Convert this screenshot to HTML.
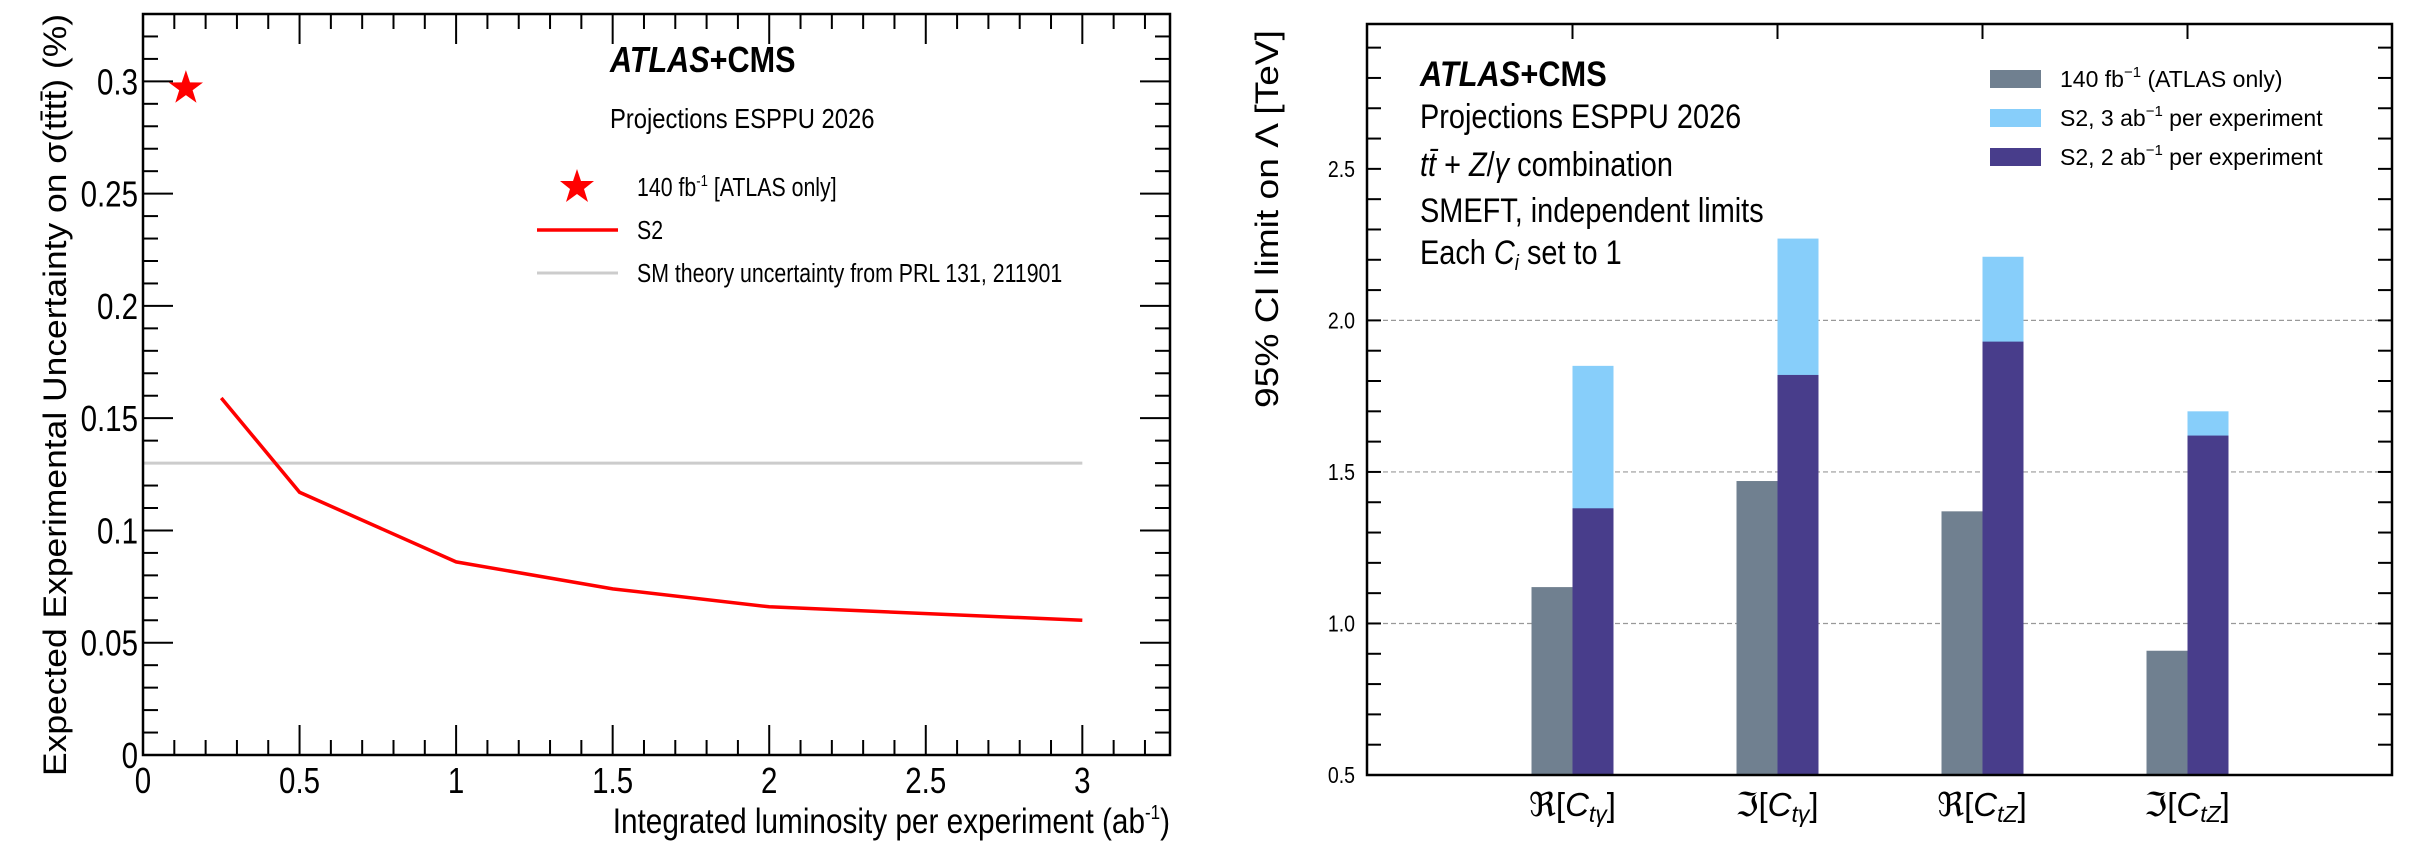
<!DOCTYPE html>
<html><head><meta charset="utf-8"><style>
html,body{margin:0;padding:0;background:#fff}
svg{display:block}
text{font-family:"Liberation Sans",sans-serif}
</style></head><body>
<svg id="root" width="2410" height="849" viewBox="0 0 2410 849" xmlns="http://www.w3.org/2000/svg">
<g id="left"></g>
<g id="right"></g>
</svg>
<script>
// Left chart data
const lumiX = [0.25, 0.5, 1, 1.5, 2, 3];
const lumiY = [0.159, 0.117, 0.086, 0.074, 0.066, 0.060];
const atlasStarX = [0.137];
const atlasStarY = [0.297];
const smTheory = [0.13];
const smTheoryRange = [0, 3];
const leftXTicks = [0, 0.5, 1, 1.5, 2, 2.5, 3];
const leftXTickLabels = ["0", "0.5", "1", "1.5", "2", "2.5", "3"];
const leftYTicks = [0, 0.05, 0.1, 0.15, 0.2, 0.25, 0.3];
const leftYTickLabels = ["0", "0.05", "0.1", "0.15", "0.2", "0.25", "0.3"];
// Right chart data
const categories = ["Re[Cty]", "Im[Cty]", "Re[CtZ]", "Im[CtZ]"];
const atlas140 = [1.12, 1.47, 1.37, 0.91];
const s2_3ab = [1.85, 2.27, 2.21, 1.70];
const s2_2ab = [1.38, 1.82, 1.93, 1.62];
const rightYTicks = [0.5, 1.0, 1.5, 2.0, 2.5];
const rightYTickLabels = ["0.5", "1.0", "1.5", "2.0", "2.5"];
const gridLines = [1.0, 1.5, 2.0];

const NS = "http://www.w3.org/2000/svg";
function mk(parent, tag, attrs, text) {
  const e = document.createElementNS(NS, tag);
  for (const k in attrs) e.setAttribute(k, attrs[k]);
  if (text !== undefined) e.textContent = text;
  parent.appendChild(e);
  return e;
}

// ---------- LEFT ----------
const L = document.getElementById('left');
const lx0 = 143, lx1 = 1170, ly0 = 755, ly1 = 14;
const lxMax = 3.28, lyMax = 0.33;
const lsx = v => lx0 + v / lxMax * (lx1 - lx0);
const lsy = v => ly0 - v / lyMax * (ly0 - ly1);

for (let i = 0; i <= 32; i++) {
  const v = i * 0.1; const x = lsx(v);
  const major = i % 5 === 0; const len = major ? 30 : 15;
  let t = mk(L, 'line', {x1: x, x2: x, y1: ly0, y2: ly0 - len, stroke: '#000', 'stroke-width': 2});
  
  
  t = mk(L, 'line', {x1: x, x2: x, y1: ly1, y2: ly1 + len, stroke: '#000', 'stroke-width': 2});
  
  
}
for (let i = 0; i <= 33; i++) {
  const v = i * 0.01; const y = lsy(v);
  const major = i % 5 === 0; const len = major ? 30 : 15;
  let t = mk(L, 'line', {x1: lx0, x2: lx0 + len, y1: y, y2: y, stroke: '#000', 'stroke-width': 2});
  
  
  t = mk(L, 'line', {x1: lx1, x2: lx1 - len, y1: y, y2: y, stroke: '#000', 'stroke-width': 2});
  
  
}
leftXTicks.forEach((v, i) => {
  const t = mk(L, 'text', {x: lsx(v), y: ly0 + 38, 'font-size': 36, 'text-anchor': 'middle', transform: `translate(${lsx(v)},0) scale(0.82,1) translate(${-lsx(v)},0)`}, leftXTickLabels[i]);
  
  
});
leftYTicks.forEach((v, i) => {
  const t = mk(L, 'text', {x: 138, y: lsy(v) + 13, 'font-size': 36, 'text-anchor': 'end', transform: `translate(138,0) scale(0.82,1) translate(-138,0)`}, leftYTickLabels[i]);
  
  
});
let sm = mk(L, 'line', {x1: lsx(smTheoryRange[0]), x2: lsx(smTheoryRange[1]), y1: lsy(smTheory[0]), y2: lsy(smTheory[0]), stroke: '#cccccc', 'stroke-width': 3});


let pts = lumiX.map((x, i) => lsx(x) + ',' + lsy(lumiY[i])).join(' ');
let s2 = mk(L, 'polyline', {points: pts, fill: 'none', stroke: '#ff0000', 'stroke-width': 3.5});


function star(parent, cx, cy, R, r) {
  let p = [];
  for (let k = 0; k < 10; k++) {
    const a = -Math.PI / 2 + k * Math.PI / 5; const rr = k % 2 ? r : R;
    p.push((cx + rr * Math.cos(a)).toFixed(1) + ',' + (cy + rr * Math.sin(a)).toFixed(1));
  }
  return mk(parent, 'polygon', {points: p.join(' '), fill: '#ff0000'});
}
atlasStarX.forEach((v, i) => {
  const s = star(L, lsx(v), lsy(atlasStarY[i]), 18, 7);
  
  
});
let fr = mk(L, 'rect', {x: lx0, y: ly1, width: lx1 - lx0, height: ly0 - ly1, fill: 'none', stroke: '#000', 'stroke-width': 2.5});


</script>
<script>
(function(){
const L = document.getElementById('left');
L.insertAdjacentHTML('beforeend', `
<text x="610" y="72" font-size="36" font-weight="bold" transform="translate(610,0) scale(0.85,1) translate(-610,0)"><tspan font-style="italic">ATLAS</tspan>+CMS</text>
<text x="610" y="128" font-size="28" transform="translate(610,0) scale(0.85,1) translate(-610,0)">Projections ESPPU 2026</text>
<polygon points="577,169 581,181 594,181 584,189 588,202 577,194 566,202 570,189 560,181 573,181" fill="#ff0000"/>
<text x="637" y="196" font-size="26" transform="translate(637,0) scale(0.82,1) translate(-637,0)">140 fb<tspan dy="-10" font-size="16">-1</tspan><tspan dy="10"> [ATLAS only]</tspan></text>
<line x1="537" x2="618" y1="230" y2="230" stroke="#ff0000" stroke-width="3.5"/>
<text x="637" y="239" font-size="26" transform="translate(637,0) scale(0.82,1) translate(-637,0)">S2</text>
<line x1="537" x2="618" y1="273" y2="273" stroke="#cccccc" stroke-width="3"/>
<text x="637" y="282" font-size="26" transform="translate(637,0) scale(0.82,1) translate(-637,0)">SM theory uncertainty from PRL 131, 211901</text>
<text x="1170" y="833" font-size="35" text-anchor="end" transform="translate(1170,0) scale(0.85,1) translate(-1170,0)">Integrated luminosity per experiment (ab<tspan dy="-14" font-size="20">-1</tspan><tspan dy="14">)</tspan></text>
<text transform="translate(66,776) rotate(-90)" x="0" y="0" font-size="32" textLength="762" lengthAdjust="spacingAndGlyphs">Expected Experimental Uncertainty on σ(tt̄tt̄)  (%)</text>
`);
})();
</script>
<script>
// ---------- RIGHT ----------
const R = document.getElementById('right');
const rx0 = 1367, rx1 = 2392, ry0 = 775, ry1 = 24;
const ryMin = 0.5, ryMax = 2.978;
const rsy = v => ry0 - (v - ryMin) / (ryMax - ryMin) * (ry0 - ry1);
const catX = i => 1572.5 + i * 205;
const bw = 41;

gridLines.forEach(v => {
  const g = mk(R, 'line', {x1: rx0, x2: rx1, y1: rsy(v), y2: rsy(v), stroke: '#999', 'stroke-width': 1.2, 'stroke-dasharray': '5,3'});
  
  
});
for (let i = 5; i <= 29; i++) {
  const v = i * 0.1; const y = rsy(v);
  let t = mk(R, 'line', {x1: rx0, x2: rx0 + 14, y1: y, y2: y, stroke: '#000', 'stroke-width': 2});
  
  
  t = mk(R, 'line', {x1: rx1, x2: rx1 - 14, y1: y, y2: y, stroke: '#000', 'stroke-width': 2});
  
  
}
rightYTicks.forEach((v, i) => {
  const t = mk(R, 'text', {x: 1355, y: rsy(v) + 8, 'font-size': 23, 'text-anchor': 'end', transform: 'translate(1355,0) scale(0.85,1) translate(-1355,0)'}, rightYTickLabels[i]);
  
  
});
categories.forEach((c, i) => {
  const cx = catX(i);
  let t = mk(R, 'line', {x1: cx, x2: cx, y1: ry1, y2: ry1 + 15, stroke: '#000', 'stroke-width': 2});
  
  
  let b = mk(R, 'rect', {x: cx - bw, y: rsy(atlas140[i]), width: bw, height: ry0 - rsy(atlas140[i]), fill: '#708090'});
  
  
  b = mk(R, 'rect', {x: cx, y: rsy(s2_3ab[i]), width: bw, height: ry0 - rsy(s2_3ab[i]), fill: '#87cefa'});
  
  
  b = mk(R, 'rect', {x: cx, y: rsy(s2_2ab[i]), width: bw, height: ry0 - rsy(s2_2ab[i]), fill: '#483d8b'});
  
  
});
let rf = mk(R, 'rect', {x: rx0, y: ry1, width: rx1 - rx0, height: ry0 - ry1, fill: 'none', stroke: '#000', 'stroke-width': 2.5});


</script>
<script>
(function(){
const R = document.getElementById('right');
const lab = (x, re, sub) => `<text x="${x}" y="816" font-size="33" text-anchor="middle" font-family="Liberation Serif, serif">${re}<tspan font-family="Liberation Sans" font-weight="300">[</tspan><tspan font-style="italic" font-family="Liberation Sans">C</tspan><tspan font-style="italic" font-size="23" dy="6" font-family="Liberation Sans">${sub}</tspan><tspan dy="-6" font-family="Liberation Sans">]</tspan></text>`;
R.insertAdjacentHTML('beforeend', `
<text x="1420" y="86" font-size="35" font-weight="bold" transform="translate(1420,0) scale(0.88,1) translate(-1420,0)"><tspan font-style="italic">ATLAS</tspan>+CMS</text>
<text x="1420" y="128" font-size="34" transform="translate(1420,0) scale(0.85,1) translate(-1420,0)">Projections ESPPU 2026</text>
<text x="1420" y="176" font-size="34" transform="translate(1420,0) scale(0.85,1) translate(-1420,0)"><tspan font-style="italic">tt̄</tspan> + <tspan font-style="italic">Z</tspan>/<tspan font-style="italic">γ</tspan> combination</text>
<text x="1420" y="222" font-size="34" transform="translate(1420,0) scale(0.85,1) translate(-1420,0)">SMEFT, independent limits</text>
<text x="1420" y="264" font-size="34" transform="translate(1420,0) scale(0.85,1) translate(-1420,0)">Each <tspan font-style="italic">C</tspan><tspan font-style="italic" font-size="22" dy="6">i</tspan><tspan dy="-6"> set to 1</tspan></text>
<rect x="1990" y="70" width="51" height="18" fill="#708090"/>
<text x="2060" y="87" font-size="23">140 fb<tspan dy="-10" font-size="15">−1</tspan><tspan dy="10"> (ATLAS only)</tspan></text>
<rect x="1990" y="109" width="51" height="18" fill="#87cefa"/>
<text x="2060" y="126" font-size="23">S2, 3 ab<tspan dy="-10" font-size="15">−1</tspan><tspan dy="10"> per experiment</tspan></text>
<rect x="1990" y="148" width="51" height="18" fill="#483d8b"/>
<text x="2060" y="165" font-size="23">S2, 2 ab<tspan dy="-10" font-size="15">−1</tspan><tspan dy="10"> per experiment</tspan></text>
<text transform="translate(1278,408) rotate(-90)" x="0" y="0" font-size="32" textLength="378" lengthAdjust="spacingAndGlyphs">95% CI limit on Λ [TeV]</text>
${lab(1572.5,'ℜ','tγ')}${lab(1777,'ℑ','tγ')}${lab(1982,'ℜ','tZ')}${lab(2187,'ℑ','tZ')}
`);
})();
</script>
</body></html>
